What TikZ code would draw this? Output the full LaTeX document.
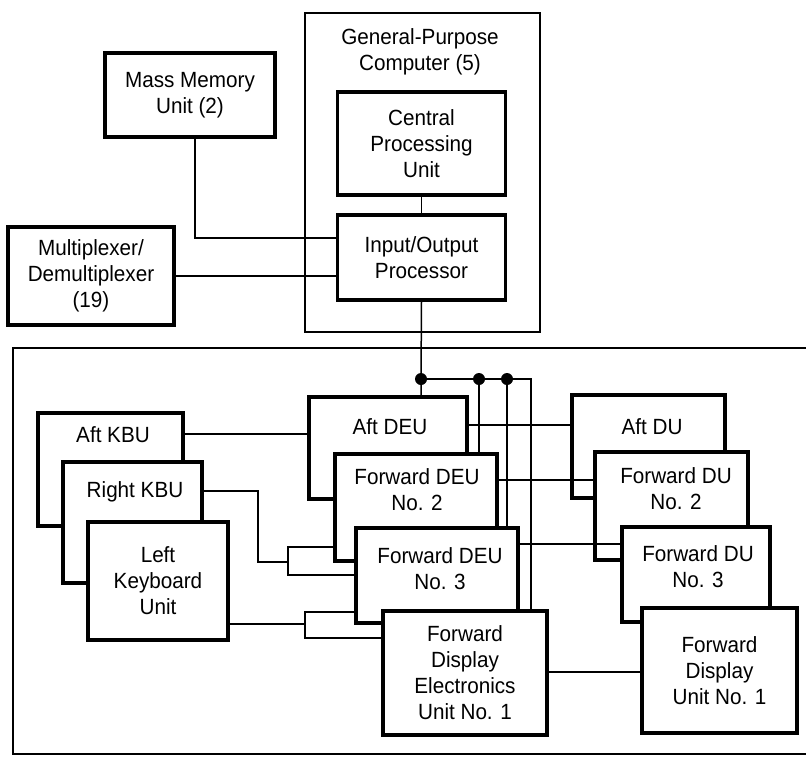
\documentclass[tikz,border=0pt]{standalone}
\usepackage{fontspec}
\setmainfont{Liberation Sans}[FakeStretch=0.94]

\begin{document}
\begin{tikzpicture}[x=1pt, y=-1pt,
  box/.style={draw, rectangle, line width=3.2pt, fill=white, inner sep=0pt, align=center,
              font=\fontsize{22}{26}\selectfont},
  txt/.style={align=center, inner sep=0pt, font=\fontsize{22}{26}\selectfont},
  frame/.style={line width=2pt},
  wire/.style={line width=1.5pt},
  dot/.style={circle, fill, inner sep=0pt, minimum size=12pt}
]
  \useasboundingbox (0,0) rectangle (806,756);

  \draw[frame] (806,348) -- (13,348) -- (13,754) -- (806,754);

  \node[box, line width=2pt, minimum width=235pt, minimum height=319pt] (gpc) at (422.5,172.5) {};
  \node[txt] (gpc-t) at (420,52) {General-Purpose\\Computer (5)};
  \node[box, minimum width=168pt, minimum height=103pt] (cpu) at (421.5,143.5) {Central\\Processing\\Unit};
  \node[box, minimum width=168pt, minimum height=85pt]  (iop) at (421.5,257.5) {Input/Output\\Processor};
  \node[box, minimum width=170pt, minimum height=84pt]  (mmu) at (190,95) {Mass Memory\\Unit (2)};
  \node[box, minimum width=166pt, minimum height=98pt]  (mux) at (91,276) {Multiplexer/\\Demultiplexer\\(19)};

  \node[box, minimum width=145pt, minimum height=113pt] (akbu) at (110.5,469.5) {};
  \node[txt] (akbu-t) at (113,435) {Aft KBU};
  \node[box, minimum width=139pt, minimum height=121pt] (rkbu) at (132.5,522.5) {};
  \node[txt] (rkbu-t) at (135,492) {Right KBU};
  \node[box, minimum width=140pt, minimum height=118pt] (lkbu) at (158,581) {Left\\Keyboard\\Unit};

  \node[box, minimum width=158pt, minimum height=102pt] (adeu) at (388,448) {};
  \node[txt] (adeu-t) at (390,427) {Aft DEU};
  \node[box, minimum width=162pt, minimum height=107pt] (fdeu2) at (416,507.5) {};
  \node[txt] (fdeu2-t) at (417,490) {Forward DEU\\No. 2};
  \node[box, minimum width=162pt, minimum height=95pt] (fdeu3) at (437,575.5) {};
  \node[txt] (fdeu3-t) at (440,568.5) {Forward DEU\\No. 3};
  \node[box, minimum width=164pt, minimum height=124pt] (fde1) at (465,673) {Forward\\Display\\Electronics\\Unit No. 1};

  \node[box, minimum width=153pt, minimum height=103pt] (adu) at (648.5,446.5) {};
  \node[txt] (adu-t) at (652,427) {Aft DU};
  \node[box, minimum width=153pt, minimum height=108pt] (fdu2) at (671.5,506) {};
  \node[txt] (fdu2-t) at (676,489) {Forward DU\\No. 2};
  \node[box, minimum width=148pt, minimum height=95pt] (fdu3) at (696,574.5) {};
  \node[txt] (fdu3-t) at (698,567) {Forward DU\\No. 3};
  \node[box, minimum width=155pt, minimum height=125pt] (fdu1) at (719.5,670.5) {Forward\\Display\\Unit No. 1};

  \node[dot] (d1) at (421,379) {};
  \node[dot] (d2) at (479,379) {};
  \node[dot] (d3) at (507,379) {};
  \coordinate (busend) at (531,379);
  \coordinate (mmbend) at (195,238);
  \coordinate (rb) at (288,562);
  \coordinate (lb) at (305,624);

  \draw[wire] (cpu.south) -- (iop.north);
  \draw[wire] (mmu.south -| mmbend) |- (iop.west |- mmbend);
  \draw[wire] (mux.east) -- (mux.east -| iop.west);
  \draw[wire] (iop.south) -- (d1.center) -- (d1 |- adeu.north);
  \draw[wire] (d1.center) -- (busend) -- (busend |- fde1.north);
  \draw[wire] (d2.center) -- (d2 |- fdeu2.north);
  \draw[wire] (d3.center) -- (d3 |- fdeu3.north);

  \draw[wire] (akbu.east |- 0,434) -- (adeu.west |- 0,434);
  \draw[wire] (rkbu.east |- 0,491) -| (258,562) -- (rb);
  \draw[wire] (fdeu2.west |- 0,547) -| (rb) |- (fdeu3.west |- 0,575);
  \draw[wire] (lkbu.east |- lb) -- (lb);
  \draw[wire] (fdeu3.west |- 0,612) -| (lb) |- (fde1.west |- 0,638);

  \draw[wire] (adeu.east |- 0,425) -- (adu.west |- 0,425);
  \draw[wire] (fdeu2.east |- 0,480) -- (fdu2.west |- 0,480);
  \draw[wire] (fdeu3.east |- 0,544) -- (fdu3.west |- 0,544);
  \draw[wire] (fde1.east |- 0,672) -- (fdu1.west |- 0,672);
\end{tikzpicture}
\end{document}
